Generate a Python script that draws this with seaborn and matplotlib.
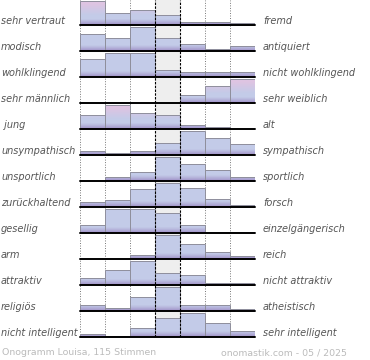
"""
Onogramm Louisa - semantic differential histograms, one row per word pair
"""
import numpy as np
import pandas as pd
import matplotlib
matplotlib.use("Agg")
import matplotlib.pyplot as plt
import seaborn as sns

# bar heights (relative, 7 steps per pair)
vertraut = [72, 36, 43, 29, 10, 10, 5]
modisch = [52, 39, 75, 39, 22, 7, 15]
wohlklingend = [54, 75, 75, 21, 16, 16, 16]
maennlich = [0, 0, 0, 0, 23, 50, 73]
jung = [43, 73, 48, 41, 12, 6, 0]
unsympathisch = [11, 6, 12, 36, 71, 48, 31]
unsportlich = [0, 13, 26, 73, 50, 33, 13]
zurueckhaltend = [16, 21, 53, 73, 56, 25, 5]
gesellig = [23, 73, 73, 60, 25, 2, 2]
arm = [0, 0, 12, 78, 47, 22, 11]
attraktiv = [20, 44, 73, 35, 29, 7, 7]
religioes = [16, 10, 41, 70, 16, 16, 6]
intelligent = [8, 4, 27, 57, 74, 41, 19]

left_labels = ["sehr vertraut", "modisch", "wohlklingend", "sehr männlich", " jung",
               "unsympathisch", "unsportlich", "zurückhaltend", "gesellig", "arm",
               "attraktiv", "religiös", "nicht intelligent"]
right_labels = ["fremd", "antiquiert", "nicht wohlklingend", "sehr weiblich", "alt",
                "sympathisch", "sportlich", "forsch", "einzelgängerisch", "reich",
                "nicht attraktiv", "atheistisch", "sehr intelligent"]
rows = [vertraut, modisch, wohlklingend, maennlich, jung, unsympathisch, unsportlich,
        zurueckhaltend, gesellig, arm, attraktiv, religioes, intelligent]
# rows whose tallest bars fade to pink at the top
pink_rows = [0, 3, 4]

footer_left = "Onogramm Louisa, 115 Stimmen"
footer_right = "onomastik.com - 05 / 2025"

W, H = 370, 360
x0, x1 = 80, 255          # bar area in pixels
first_base, step = 25, 26  # baseline of first row, row spacing
row_h = 24.5

blue = np.array(matplotlib.colors.to_rgb("#c3cbe8"))
pink = np.array(matplotlib.colors.to_rgb("#dec4e2"))
purple = np.array(matplotlib.colors.to_rgb("#9f8fc6"))


def bar_gradient(h_px, tinted):
    n = max(int(h_px * 4), 4)
    p = np.linspace(0, h_px, n)
    col = np.tile(blue, (n, 1))
    if tinted:
        t_pink = np.clip((p / row_h - 0.4) / 0.45, 0, 1)[:, None]
        col = col * (1 - t_pink) + pink * t_pink
    t_bot = np.clip(1 - p / 6.0, 0, 1)[:, None] ** 1.2
    col = col * (1 - t_bot) + purple * t_bot
    return col[:, None, :]


sns.set_style("white")
fig = plt.figure(figsize=(W / 100, H / 100), dpi=100)

last_base = first_base + step * (len(rows) - 1)
grid_rect = [x0 / W, (H - last_base) / H, (x1 - x0) / W, last_base / H]

# background: grey middle column + dotted separators
bg = fig.add_axes(grid_rect, zorder=0)
bg.set_xlim(-0.5, 6.5)
bg.set_ylim(0, 1)
bg.axvspan(2.5, 3.5, color="#eeeeee", lw=0)
for xv in [-0.5, 0.5, 1.5, 4.5, 5.5, 6.5]:
    bg.axvline(xv, color="#777777", lw=0.7, linestyle=(0, (1, 1.6)))
bg.set_axis_off()

for i, vals in enumerate(rows):
    base = first_base + step * i
    ax = fig.add_axes([x0 / W, (H - base) / H, (x1 - x0) / W, row_h / H], zorder=2)
    df = pd.DataFrame({"pos": range(7), "val": vals})
    sns.barplot(data=df, x="pos", y="val", ax=ax, width=1, color="#c3cbe8",
                edgecolor="#8f8f9c", linewidth=0.7, errorbar=None)
    vmax = max(vals)
    ax.set_autoscale_on(False)
    ax.set_xlim(-0.5, 6.5)
    ax.set_ylim(0, vmax)
    for patch in ax.patches:
        h = patch.get_height()
        if h <= 0:
            continue
        bx = patch.get_x()
        img = bar_gradient(row_h * h / vmax, i in pink_rows)
        im = ax.imshow(img, extent=(bx, bx + patch.get_width(), 0, h), origin="lower",
                       aspect="auto", interpolation="nearest", zorder=1.5)
        im.set_clip_path(patch)
        patch.set_facecolor("none")
        patch.set_zorder(2)
    ax.axhline(0, color="black", lw=1.4, zorder=3, clip_on=False)
    ax.set_axis_off()

    fig.text(1 / W, 1 - (base - 1.5) / H, left_labels[i], ha="left", va="baseline",
             fontsize=7.0, style="italic", color="#555555")
    fig.text(263 / W, 1 - (base - 1.5) / H, right_labels[i], ha="left", va="baseline",
             fontsize=7.0, style="italic", color="#555555")

# dashed borders of the middle column on top
top = fig.add_axes(grid_rect, zorder=5)
top.set_xlim(-0.5, 6.5)
top.set_ylim(0, 1)
for xv in [2.5, 3.5]:
    top.axvline(xv, color="black", lw=0.8, linestyle=(0, (2.2, 1.2)))
top.set_axis_off()

fig.text(2 / W, 1 - 355 / H, footer_left, ha="left", va="baseline",
         fontsize=6.75, color="#bbbbbb")
fig.text(347 / W, 1 - 355 / H, footer_right, ha="right", va="baseline",
         fontsize=6.75, color="#bbbbbb")

fig.savefig("out.png", dpi=100)
